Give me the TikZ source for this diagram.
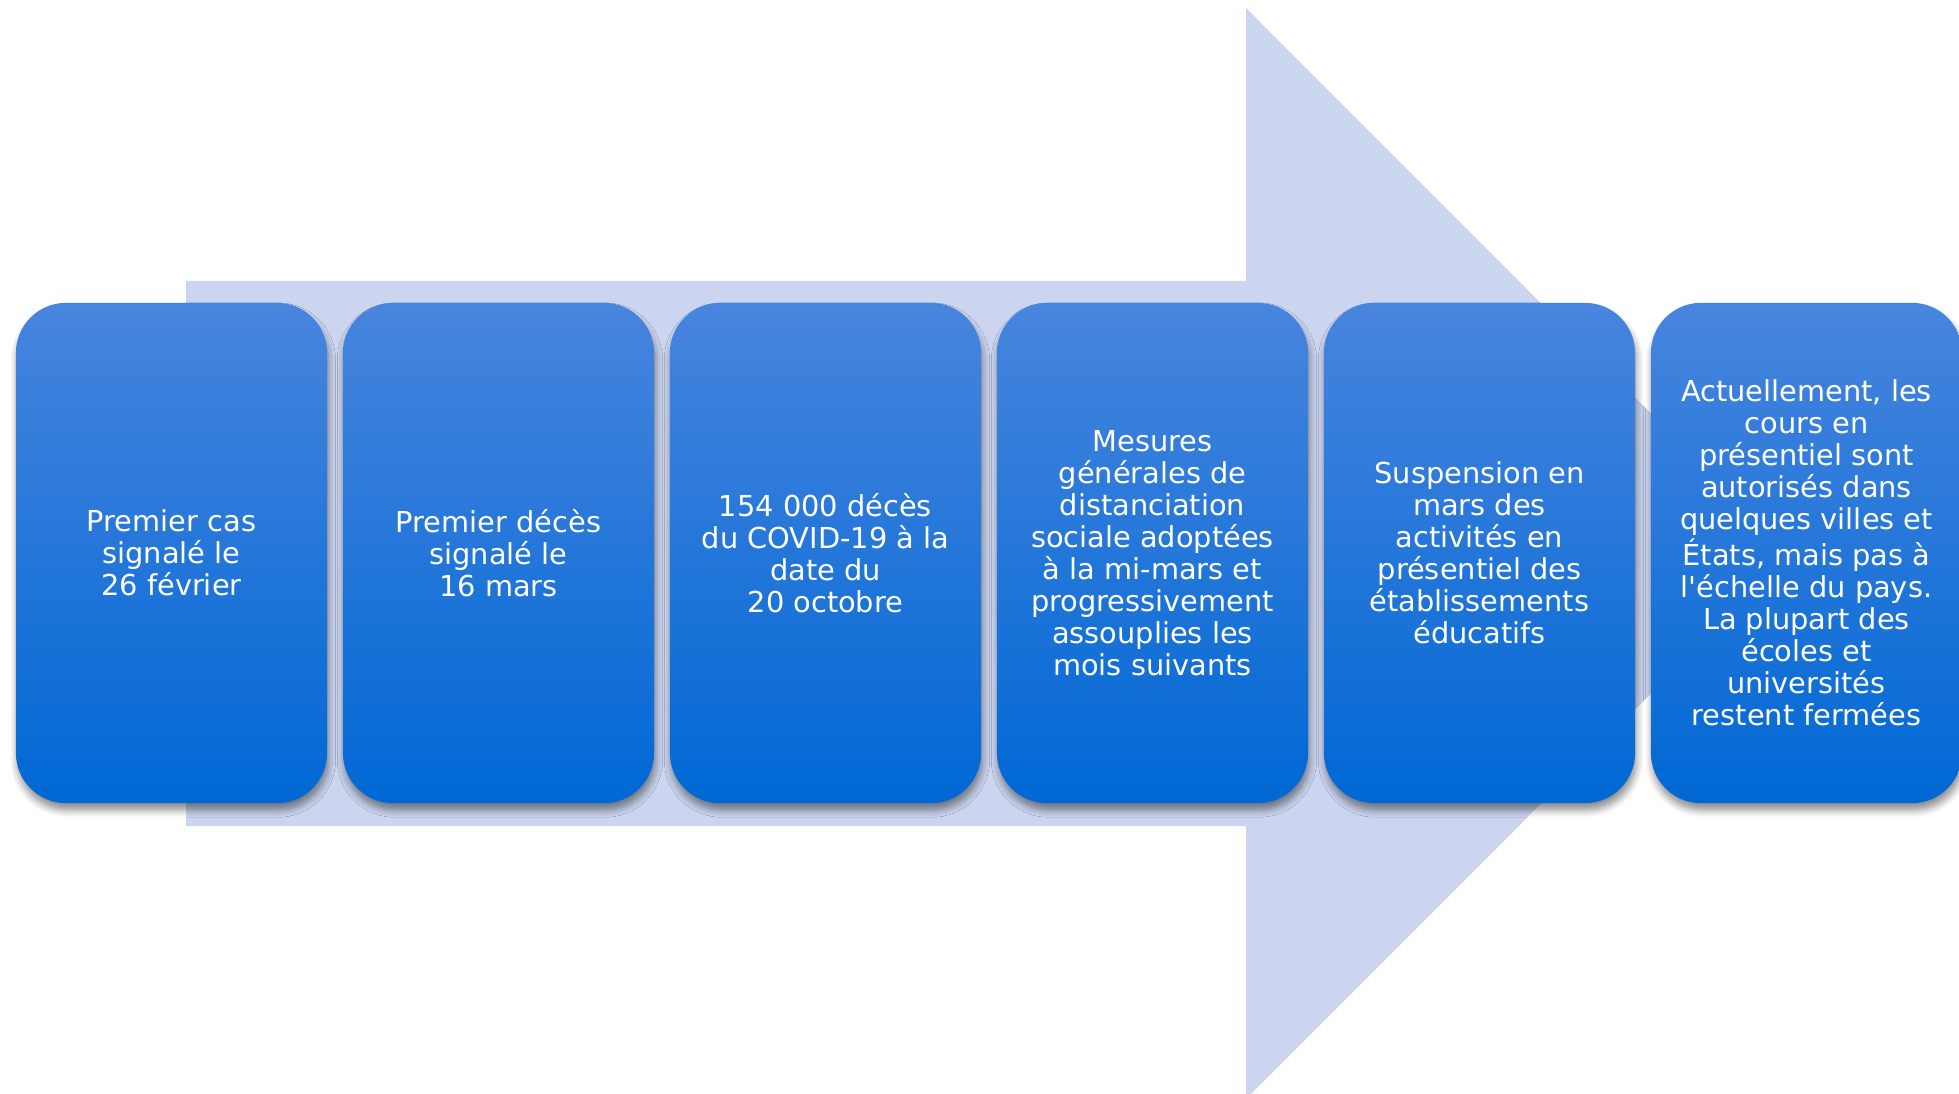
\documentclass[tikz,border=0pt]{standalone}
\usepackage{fontspec}
\setmainfont{DejaVu Sans}[Ligatures=TeXOff]
\usetikzlibrary{shadows.blur}

\definecolor{flechebleu}{RGB}{203,213,239}
\definecolor{haut}{RGB}{72,133,222}
\definecolor{milieu}{RGB}{26,120,224}
\definecolor{bas}{RGB}{0,104,212}

\tikzset{
  etape/.style={rectangle, rounded corners=0.5cm, minimum width=3.11cm, minimum height=5cm,
    top color=haut, middle color=milieu, bottom color=bas, text=white, align=center,
    font=\fontsize{8.2}{9.1}\selectfont,
    blur shadow={shadow xshift=0.4pt, shadow yshift=-2pt, shadow blur radius=2pt,
      shadow blur steps=6, shadow opacity=45}}
}

\begin{document}
\begin{tikzpicture}[x=0.01cm,y=-0.01cm]
\useasboundingbox (0,0) rectangle (1959,1094);

% la grande fleche
\coordinate (A) at (186,281);
\coordinate (B) at (1246,281);
\coordinate (C) at (1246,8);
\coordinate (D) at (1791,553.5);
\coordinate (E) at (1246,1099);
\coordinate (F) at (1246,826);
\coordinate (G) at (186,826);
\fill[flechebleu] (A) -- (B) -- (C) -- (D) -- (E) -- (F) -- (G) -- cycle;

% les etapes
\node[etape] (p1) at (171.5,553) {Premier cas\\signalé le\\26 février};
\node[etape] (p2) at (498.5,553) {Premier décès\\signalé le\\16 mars};
\node[etape] (p3) at (825.5,553) {154 000 décès\\du COVID-19 à la\\date du\\20 octobre};
\node[etape] (p4) at (1152.5,553) {Mesures\\générales de\\distanciation\\sociale adoptées\\à la mi-mars et\\progressivement\\assouplies les\\mois suivants};
\node[etape] (p5) at (1479.5,553) {Suspension en\\mars des\\activités en\\présentiel des\\établissements\\éducatifs};
\node[etape] (p6) at (1806.5,553) {Actuellement, les\\cours en\\présentiel sont\\autorisés dans\\quelques villes et\\États, mais pas à\\l'échelle du pays.\\La plupart des\\écoles et\\universités\\restent fermées};
\end{tikzpicture}
\end{document}
